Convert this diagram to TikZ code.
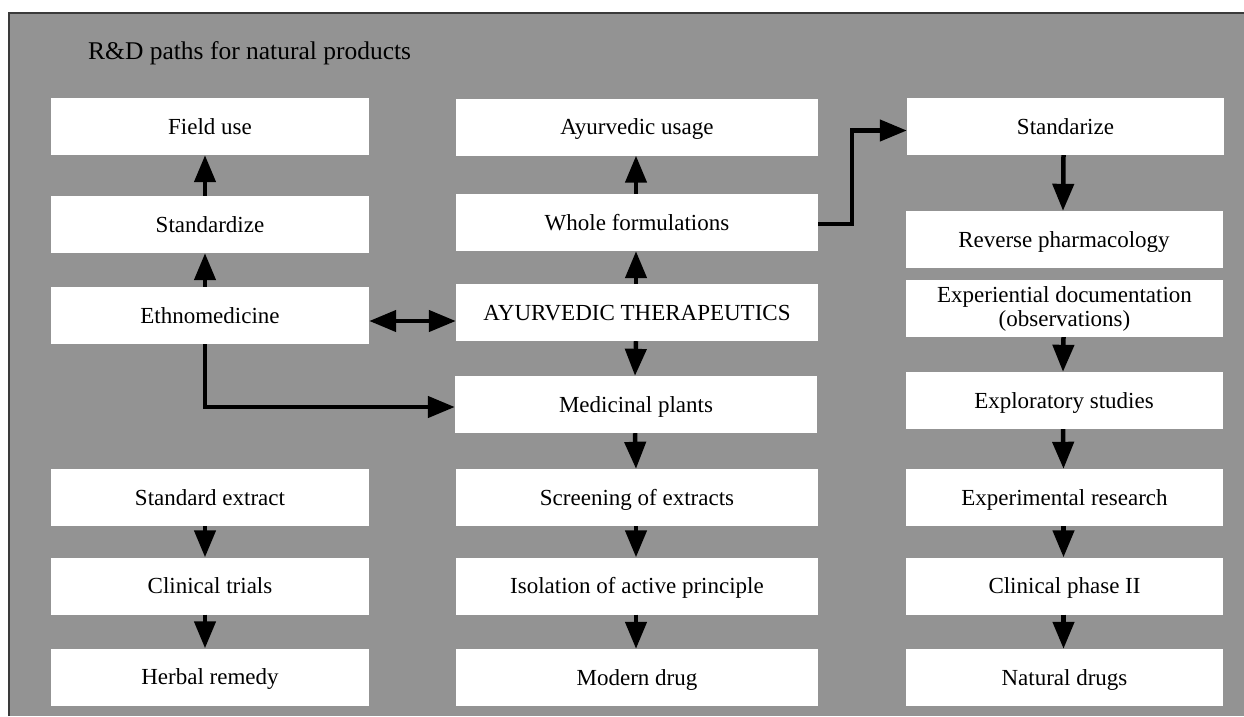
\documentclass[tikz,border=0pt]{standalone}
\usepackage{fontspec}
\setmainfont{Liberation Serif}
\usetikzlibrary{arrows.meta}
\definecolor{bggray}{HTML}{939393}
\definecolor{framec}{HTML}{3A3A3A}
\begin{document}
\begin{tikzpicture}[x=1pt,y=-1pt,
  boxbase/.style={fill=white, draw=none, inner sep=0pt, minimum height=57pt,
    font=\fontsize{23}{24}\selectfont, align=center, text=black},
  box/.style={boxbase, text height=15.5pt, text depth=0pt},
  colA/.style={box, minimum width=318pt},
  colB/.style={box, minimum width=362pt},
  colC/.style={box, minimum width=317pt},
  arr/.style={line width=4.5pt, -{Triangle[length=27pt,width=21pt]}},
  darr/.style={line width=4.5pt, {Triangle[length=27pt,width=21pt]}-{Triangle[length=27pt,width=21pt]}},
]
\useasboundingbox (0,0) rectangle (1244,716);
\fill[white] (0,0) rectangle (1244,716);
\fill[bggray] (9,13) rectangle (1244,716);
\draw[framec, line width=1.5pt] (9,716) -- (9,13) -- (1244,13);

\node[anchor=base west, inner sep=0pt, font=\fontsize{25.5}{28}\selectfont] (title) at (88,59) {R\&D paths for natural products};

% column A
\node[colA] (field) at (210,126.5) {Field use};
\node[colA] (stdA) at (210,224.5) {Standardize};
\node[colA] (ethno) at (210,315.5) {Ethnomedicine};
\node[colA] (stdext) at (210,497.5) {Standard extract};
\node[colA] (clin) at (210,586) {Clinical trials};
\node[colA] (herbal) at (210,677) {Herbal remedy};

% column B
\node[colB] (ayuse) at (637,127) {Ayurvedic usage};
\node[colB] (whole) at (637,222.5) {Whole formulations};
\node[colB] (ayther) at (637,312.5) {AYURVEDIC THERAPEUTICS};
\node[colB] (medpl) at (636,404.5) {Medicinal plants};
\node[colB] (screen) at (637,497.5) {Screening of extracts};
\node[colB] (isol) at (637,586) {Isolation of active principle};
\node[colB] (modern) at (637,677.5) {Modern drug};

% column C
\node[colC] (standz) at (1065.5,126.5) {Standarize};
\node[colC] (revph) at (1064,239.5) {Reverse pharmacology};
\node[boxbase, minimum width=317pt] (expdoc) at (1064.5,308.5) {Experiential documentation\\(observations)};
\node[colC] (explor) at (1064,400.5) {Exploratory studies};
\node[colC] (experim) at (1064.5,497.5) {Experimental research};
\node[colC] (clinph) at (1064.5,586) {Clinical phase II};
\node[colC] (natural) at (1064.5,677.5) {Natural drugs};

% arrows column A
\draw[arr] ([xshift=-5pt]stdA.north) -- ([xshift=-5pt]field.south);
\draw[arr] ([xshift=-5pt]ethno.north) -- ([xshift=-5pt]stdA.south);
\draw[arr] ([xshift=-5pt]stdext.south) -- ([xshift=-5pt]clin.north);
\draw[arr] ([xshift=-5pt]clin.south) -- ([xshift=-5pt]herbal.north);
\draw[arr] ([xshift=-5pt]ethno.south) |- ([yshift=-2.5pt]medpl.west);
\draw[darr] ([yshift=-5.5pt]ethno.east) -- ([yshift=-8.5pt]ayther.west);

% arrows column B
\draw[arr] ([xshift=-1pt]whole.north) -- ([xshift=-1pt]ayuse.south);
\draw[arr] ([xshift=-1pt]ayther.north) -- ([xshift=-1pt]whole.south);
\draw[arr] ([xshift=-1pt]ayther.south) -- ([xshift=-1pt]medpl.north);
\draw[arr] ([xshift=-1pt]medpl.south) -- ([xshift=-1pt]screen.north);
\draw[arr] ([xshift=-1pt]screen.south) -- ([xshift=-1pt]isol.north);
\draw[arr] ([xshift=-1pt]isol.south) -- ([xshift=-1pt]modern.north);
\draw[arr] ([yshift=-1.5pt]whole.east) -- ++(34,0) |- ([yshift=-4pt]standz.west);

% arrows column C
\draw[arr] ([xshift=-2pt]standz.south) -- ([xshift=-1pt]revph.north);
\draw[arr] ([xshift=-1pt]expdoc.south) -- ([xshift=-1pt]explor.north);
\draw[arr] ([xshift=-1pt]explor.south) -- ([xshift=-1pt]experim.north);
\draw[arr] ([xshift=-1pt]experim.south) -- ([xshift=-1pt]clinph.north);
\draw[arr] ([xshift=-1pt]clinph.south) -- ([xshift=-1pt]natural.north);
\end{tikzpicture}
\end{document}
